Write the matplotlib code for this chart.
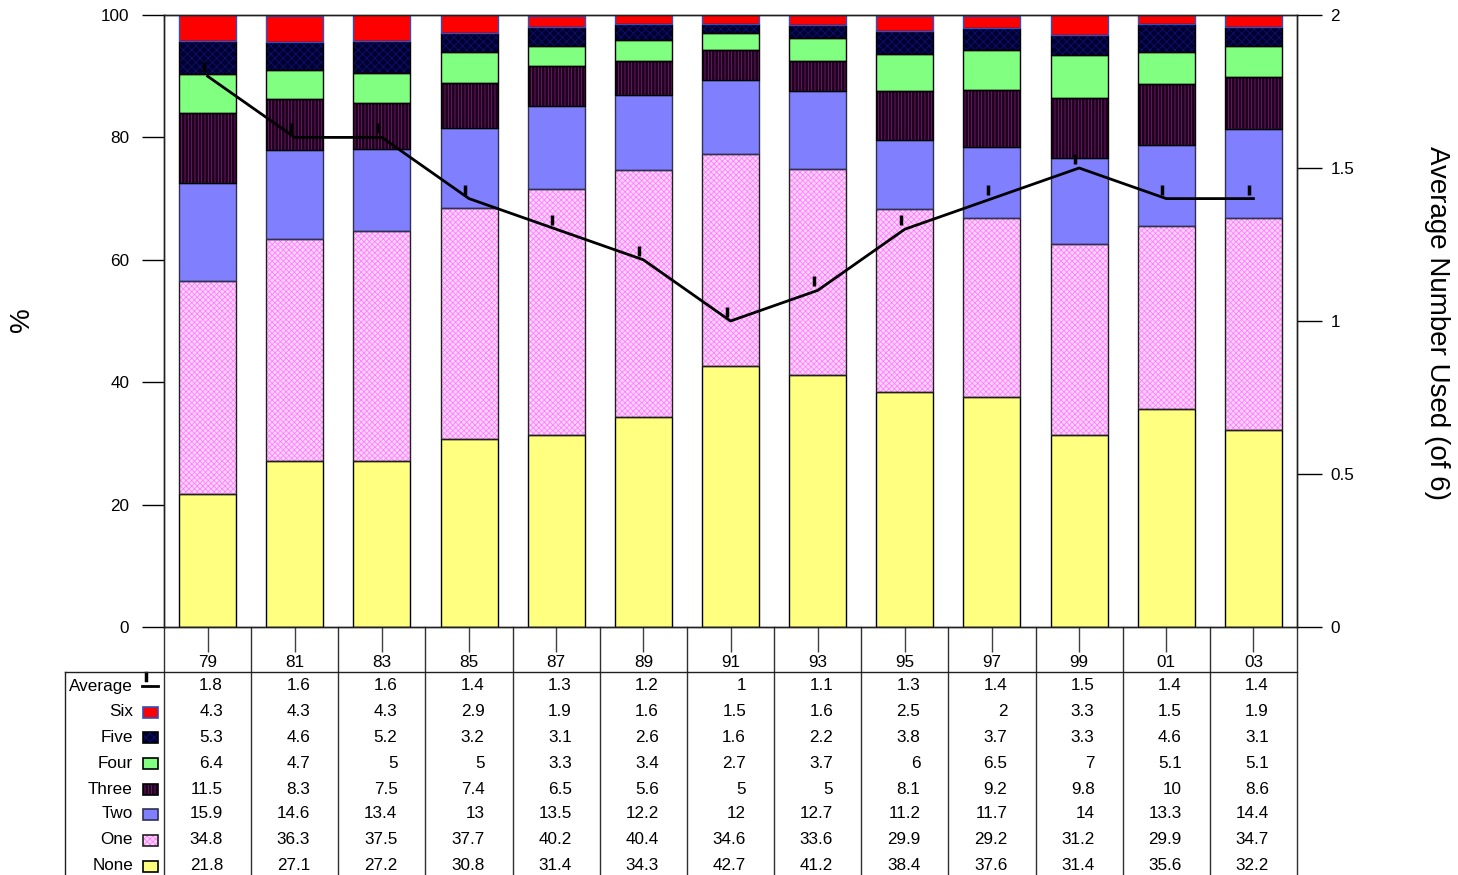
import matplotlib
matplotlib.use('Agg')
import matplotlib.pyplot as plt
import numpy as np
from matplotlib.transforms import blended_transform_factory, ScaledTranslation
from matplotlib.patches import Rectangle
from matplotlib.lines import Line2D

plt.rcParams['font.family'] = ['Liberation Sans', 'DejaVu Sans']
plt.rcParams['hatch.linewidth'] = 0.6

# ---------------- data ----------------
years = ['79', '81', '83', '85', '87', '89', '91', '93', '95', '97', '99', '01', '03']
average = [1.8, 1.6, 1.6, 1.4, 1.3, 1.2, 1, 1.1, 1.3, 1.4, 1.5, 1.4, 1.4]
six = [4.3, 4.3, 4.3, 2.9, 1.9, 1.6, 1.5, 1.6, 2.5, 2, 3.3, 1.5, 1.9]
five = [5.3, 4.6, 5.2, 3.2, 3.1, 2.6, 1.6, 2.2, 3.8, 3.7, 3.3, 4.6, 3.1]
four = [6.4, 4.7, 5, 5, 3.3, 3.4, 2.7, 3.7, 6, 6.5, 7, 5.1, 5.1]
three = [11.5, 8.3, 7.5, 7.4, 6.5, 5.6, 5, 5, 8.1, 9.2, 9.8, 10, 8.6]
two = [15.9, 14.6, 13.4, 13, 13.5, 12.2, 12, 12.7, 11.2, 11.7, 14, 13.3, 14.4]
one = [34.8, 36.3, 37.5, 37.7, 40.2, 40.4, 34.6, 33.6, 29.9, 29.2, 31.2, 29.9, 34.7]
none = [21.8, 27.1, 27.2, 30.8, 31.4, 34.3, 42.7, 41.2, 38.4, 37.6, 31.4, 35.6, 32.2]
left_ticks = [0, 20, 40, 60, 80, 100]
right_ticks = [0, 0.5, 1, 1.5, 2]
right_tick_labels = ['0', '0.5', '1', '1.5', '2']

# name, values, face, hatch, hatch colour, edge colour (bottom -> top)
stack = [
    ('None', none, '#FFFF80', None, None, '#000000'),
    ('One', one, '#FFD4FF', 'xxxxxx', '#FF80FF', '#202020'),
    ('Two', two, '#8080FF', None, None, '#303050'),
    ('Three', three, '#1A0018', '|||||', '#7A1A7A', '#000000'),
    ('Four', four, '#80FF80', None, None, '#000000'),
    ('Five', five, '#000030', 'xxxx', '#101070', '#000000'),
    ('Six', six, '#FF0000', None, None, '#3050C0'),
]

W, H = 1458, 875
fig = plt.figure(figsize=(W / 100, H / 100), dpi=100)
L, R, T, B = 164, 1297, 15, 627
ax = fig.add_axes([L / W, 1 - B / H, (R - L) / W, (B - T) / H])

x = np.arange(len(years))
bw = 0.654
bottom = np.zeros(len(years))
for name, vals, face, hatch, hcol, ecol in stack:
    vals = np.array(vals, dtype=float)
    if hatch:
        ax.bar(x, vals, bw, bottom=bottom, color=face, edgecolor=hcol,
               hatch=hatch, linewidth=0, zorder=2)
    else:
        ax.bar(x, vals, bw, bottom=bottom, color=face, linewidth=0, zorder=2)
    ax.bar(x, vals, bw, bottom=bottom, facecolor='none', edgecolor=ecol,
           linewidth=1, zorder=2.5)
    bottom += vals

ax.set_xlim(-0.5, len(years) - 0.5)
ax.set_ylim(0, 100)
ax.set_yticks(left_ticks)
ax.tick_params(axis='y', length=16, width=1, pad=9, labelsize=12.3)
ax.set_xticks(x)
ax.set_xticklabels(years)
ax.tick_params(axis='x', length=18, width=1, pad=2, labelsize=12.3, color='#404040')
for s in ax.spines.values():
    s.set_linewidth(1)
    s.set_color('#202020')

ax2 = ax.twinx()
ax2.set_ylim(0, 2)
ax2.set_yticks(right_ticks)
ax2.set_yticklabels(right_tick_labels)
ax2.tick_params(axis='y', length=18, width=1, pad=6, labelsize=12.3)
for s in ax2.spines.values():
    s.set_linewidth(1)
    s.set_color('#202020')
ax2.plot(x, average, color='black', lw=2, zorder=5)
off = ScaledTranslation(-4 / 100, 9 / 100, fig.dpi_scale_trans)
ax2.plot(x, average, linestyle='none', marker='|', markersize=7, mew=2.5,
         color='black', transform=ax2.transData + off, zorder=5)

fig.text(22 / W, 1 - 320 / H, '%', rotation=90, fontsize=20, ha='center', va='center')
fig.text(1437 / W, 1 - 323 / H, 'Average Number Used (of 6)', rotation=270,
         fontsize=20, ha='center', va='center')

# ---------------- data table ----------------
tb = blended_transform_factory(ax.transData, fig.transFigure)
rows = [('Average', average), ('Six', six), ('Five', five), ('Four', four),
        ('Three', three), ('Two', two), ('One', one), ('None', none)]
row_y = [686, 712, 737, 763, 789, 814, 840, 866]
style = {s[0]: s for s in stack}


def fmt(v):
    return ('%g' % v)


for (name, vals), yp in zip(rows, row_y):
    yf = 1 - yp / H
    fig.text(133 / W, yf, name, ha='right', va='center', fontsize=12.3)
    for i, v in enumerate(vals):
        ax.text(i + 0.178, yf, fmt(v), transform=tb, ha='right', va='center',
                fontsize=12.3, clip_on=False)
    if name == 'Average':
        fig.add_artist(Line2D([142 / W, 158 / W], [yf, yf], color='black', lw=2,
                              transform=fig.transFigure))
        fig.add_artist(Line2D([146 / W, 146 / W], [1 - 673 / H, 1 - 680 / H],
                              color='black', lw=2.5, transform=fig.transFigure))
    else:
        _, _, face, hatch, hcol, ecol = style[name]
        rect_kw = dict(transform=fig.transFigure)
        if hatch:
            fig.add_artist(Rectangle((143 / W, yf - 5.5 / H), 15 / W, 11 / H,
                                     facecolor=face, edgecolor=hcol, hatch=hatch,
                                     linewidth=0, **rect_kw))
        else:
            fig.add_artist(Rectangle((143 / W, yf - 5.5 / H), 15 / W, 11 / H,
                                     facecolor=face, linewidth=0, **rect_kw))
        fig.add_artist(Rectangle((143 / W, yf - 5.5 / H), 15 / W, 11 / H,
                                 facecolor='none', edgecolor=ecol, linewidth=1.2,
                                 **rect_kw))

# table grid lines
fig.add_artist(Line2D([65 / W, R / W], [1 - 672 / H, 1 - 672 / H], color='#202020',
                      lw=1, transform=fig.transFigure))
fig.add_artist(Line2D([65 / W, 65 / W], [1 - 672 / H, 0], color='#202020',
                      lw=1, transform=fig.transFigure))
for b in np.arange(len(years) + 1) - 0.5:
    ax.add_line(Line2D([b, b], [1 - B / H, 0], color='#303030', lw=1,
                       transform=tb, clip_on=False))

fig.savefig('out.png', dpi=100)
